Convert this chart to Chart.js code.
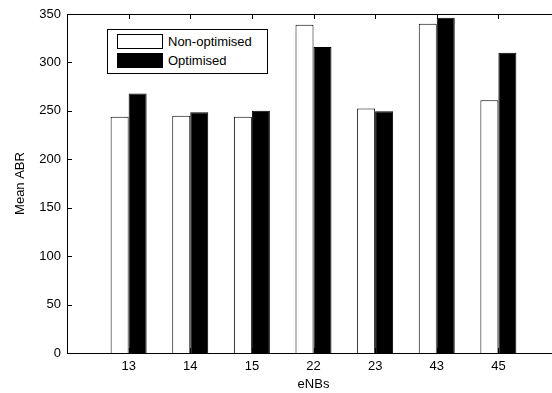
<!DOCTYPE html>
<html>
<head>
<meta charset="utf-8">
<script src="https://cdn.jsdelivr.net/npm/chart.js@4/dist/chart.umd.min.js"></script>
<style>
  html, body { margin: 0; overflow: hidden; background: #fff; }
  #wrap { position: absolute; left: 0; top: 0; width: 552px; height: 393px; overflow: hidden; }
  #abrChart { position: absolute; left: 0; top: 0; }
  #legend {
    position: absolute; left: 107px; top: 29px; width: 159px; height: 43px;
    border: 1px solid #000; background: #fff;
    font: 13px "Liberation Sans", Arial, sans-serif; color: #000;
  }
  .row { position: absolute; left: 9px; height: 15px; line-height: 15px; }
  .sw { position: absolute; left: 0; top: 0; width: 44px; height: 13px; border: 1px solid #000; }
  .lbl { position: absolute; left: 51px; top: 0; white-space: nowrap; }
</style>
</head>
<body>
<div id="wrap">
  <canvas id="abrChart" width="600" height="393"></canvas>
  <div id="legend">
    <div class="row" style="top:4px"><span class="sw" style="background:#fff"></span><span class="lbl">Non-optimised</span></div>
    <div class="row" style="top:23px"><span class="sw" style="background:#000"></span><span class="lbl">Optimised</span></div>
  </div>
</div>
<script>
// DATA
const categories = ['13', '14', '15', '22', '23', '43', '45'];
const nonOptimised = [244, 245, 244, 339, 252.5, 340, 261];
const optimised = [268, 248.5, 250, 316, 249.5, 346, 310];
const yTicks = [0, 50, 100, 150, 200, 250, 300, 350];

// MATLAB-style x limits [0, 8]: pad an empty slot on each side
const labels = ['', ...categories, ''];
const pad = arr => [null, ...arr, null];

const font = { family: '"Liberation Sans", Arial, sans-serif', size: 13 };

// inward ticks + top frame line, like MATLAB axes
const innerTicks = {
    id: 'innerTicks',
    afterDraw(chart) {
        const { ctx, chartArea: a, scales: { x, y } } = chart;
        ctx.save();
        ctx.strokeStyle = '#000';
        ctx.lineWidth = 1;
        ctx.beginPath();
        ctx.moveTo(a.left, a.top + 0.5);
        ctx.lineTo(a.right, a.top + 0.5);
        categories.forEach((c, i) => {
            const px = Math.round(x.getPixelForValue(i + 1)) + 0.5;
            ctx.moveTo(px, a.bottom);
            ctx.lineTo(px, a.bottom - 5);
            ctx.moveTo(px, a.top);
            ctx.lineTo(px, a.top + 5);
        });
        yTicks.forEach(v => {
            const py = Math.round(y.getPixelForValue(v)) + 0.5;
            ctx.moveTo(a.left, py);
            ctx.lineTo(a.left + 5, py);
        });
        ctx.stroke();
        ctx.restore();
    }
};

const abrChart = new Chart(document.getElementById('abrChart'), {
    type: 'bar',
    data: {
        labels: labels,
        datasets: [{
            label: 'Non-optimised',
            data: pad(nonOptimised),
            backgroundColor: '#fff',
            borderColor: '#000',
            borderWidth: 1
        }, {
            label: 'Optimised',
            data: pad(optimised),
            backgroundColor: '#000',
            borderColor: '#000',
            borderWidth: 1
        }]
    },
    options: {
        responsive: false,
        animation: false,
        categoryPercentage: 0.584,
        barPercentage: 1,
        // the plot box runs past the right edge of the picture (canvas is clipped)
        layout: { padding: { top: 14, right: 40, left: 0, bottom: 0 } },
        plugins: { legend: { display: false }, tooltip: { enabled: false } },
        scales: {
            x: {
                offset: false,
                grid: { display: false, drawTicks: false },
                border: { display: true, color: '#000', width: 1 },
                ticks: { color: '#000', font: font, padding: 6, autoSkip: false, maxRotation: 0 },
                title: { display: true, text: 'eNBs', color: '#000', font: font, padding: { top: 0, bottom: 1 } },
                afterFit: s => { s.height = 40; }
            },
            y: {
                min: 0,
                max: 350,
                afterBuildTicks: s => { s.ticks = yTicks.map(v => ({ value: v })); },
                grid: { display: false, drawTicks: false },
                border: { display: true, color: '#000', width: 1 },
                ticks: { color: '#000', font: font, padding: 6 },
                title: { display: true, text: 'Mean ABR', color: '#000', font: font, padding: { top: 13, bottom: 0 } },
                afterFit: s => { s.width = 67; }
            }
        }
    },
    plugins: [innerTicks]
});
</script>
</body>
</html>
